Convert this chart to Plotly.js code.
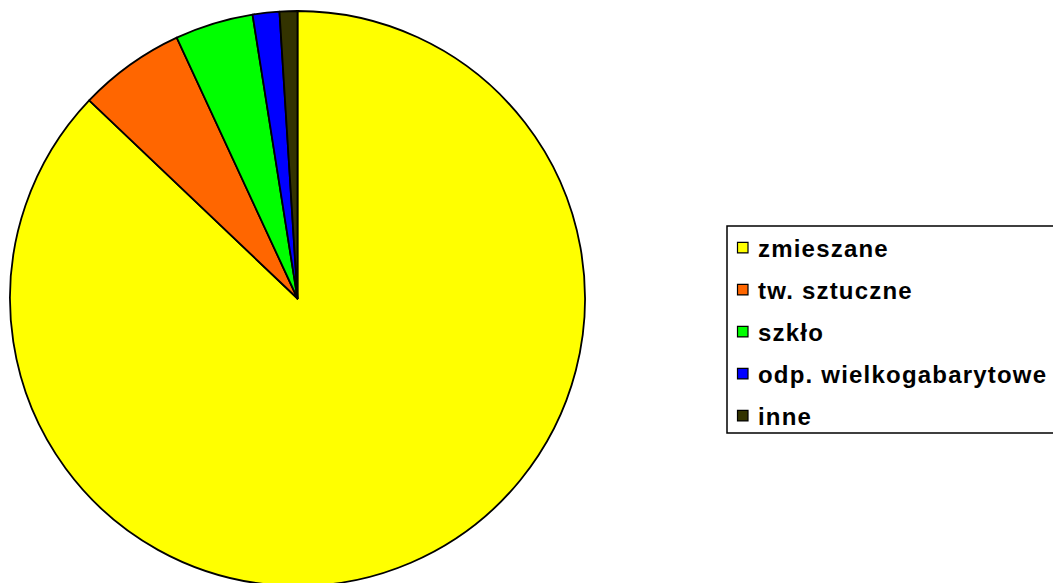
<!DOCTYPE html>
<html>
<head>
<meta charset="utf-8">
<script src="https://cdn.plot.ly/plotly-3.0.1.min.js"></script>
<style>
html, body { margin: 0; padding: 0; overflow: hidden; background: #fff; }
#chart { width: 1053px; height: 600px; }
.annotation-text { letter-spacing: 1.2px; }
</style>
</head>
<body>
<div id="chart"></div>
<script>
// Data
const categories = ["zmieszane", "tw. sztuczne", "szkło", "odp. wielkogabarytowe", "inne"];
const values = [87.1, 6.0, 4.4, 1.5, 1.0];
const colors = ["#FFFF00", "#FF6600", "#00FF00", "#0000FF", "#333300"];

// Layout geometry (pixels)
const W = 1053, H = 600;
const cx = 297.5, cy = 298.5, R = 287.5;
const px = x => x / W;
const py = y => 1 - y / H;

const shapes = [];
const annotations = [];

// legend box
shapes.push({
  type: "rect", xref: "paper", yref: "paper",
  x0: px(727), x1: px(1070), y0: py(226), y1: py(433),
  line: { color: "#000", width: 1.5 }, fillcolor: "rgba(0,0,0,0)"
});

categories.forEach((c, i) => {
  const yc = 247.7 + i * 42;
  shapes.push({
    type: "rect", xref: "paper", yref: "paper",
    x0: px(737.5), x1: px(748), y0: py(yc - 5.25), y1: py(yc + 5.25),
    line: { color: "#000", width: 1.2 }, fillcolor: colors[i]
  });
  annotations.push({
    xref: "paper", yref: "paper", x: px(756), y: py(yc + 0.5),
    xanchor: "left", yanchor: "middle", showarrow: false,
    text: c,
    font: { family: "Liberation Sans, Arial, sans-serif", size: 24, color: "#000", weight: "bold" }
  });
});

const data = [{
  type: "pie",
  labels: categories,
  values: values,
  sort: false,
  direction: "clockwise",
  rotation: 0,
  textinfo: "none",
  hoverinfo: "label+percent",
  marker: { colors: colors, line: { color: "#000", width: 1.8 } },
  domain: { x: [px(cx - R), px(cx + R)], y: [py(cy + R), py(cy - R)] },
  showlegend: false
}];

const layout = {
  width: W, height: H,
  margin: { l: 0, r: 0, t: 0, b: 0 },
  paper_bgcolor: "#fff",
  showlegend: false,
  shapes: shapes,
  annotations: annotations
};

Plotly.newPlot("chart", data, layout, { staticPlot: true });
</script>
</body>
</html>
